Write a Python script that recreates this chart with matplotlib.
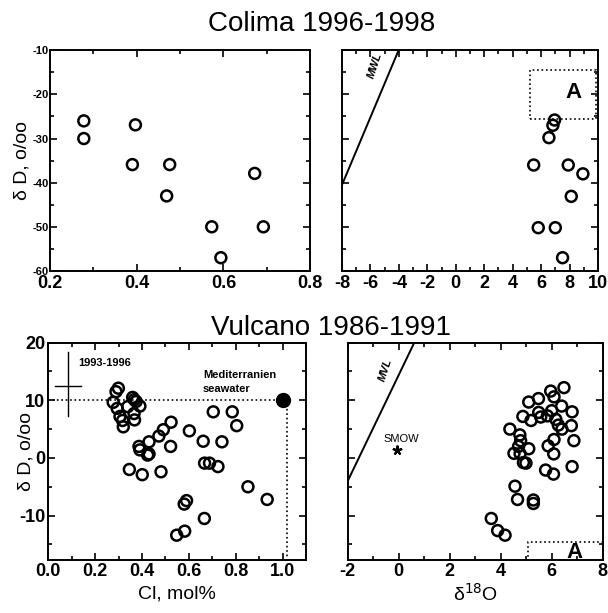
import numpy as np
import matplotlib
matplotlib.use("Agg")
from matplotlib import pyplot as plt
from matplotlib.ticker import MultipleLocator

plt.rcParams['font.family'] = ['Liberation Sans', 'DejaVu Sans']
plt.rcParams['axes.unicode_minus'] = False

# Colima 1996-1998
col_cl = [0.278, 0.278, 0.397, 0.390, 0.476, 0.469, 0.672, 0.573, 0.692, 0.594]
col_dD = [-26.0, -30.0, -26.9, -35.9, -35.9, -43.0, -37.9, -50.0, -50.0, -57.0]
col_d18 = [6.95, 6.83, 6.55, 5.48, 7.91, 8.94, 8.12, 5.80, 7.00, 7.51]
col_dD2 = [-25.8, -27.0, -29.8, -36.0, -36.0, -38.0, -43.1, -50.2, -50.2, -57.0]
col_mwl_x = [-8, -4.02]
col_mwl_y = [-40.5, -10]
col_boxA = [5.19, 9.83, -25.5, -14.5]

# Vulcano 1986-1991
vul_cl = [0.277, 0.289, 0.299, 0.294, 0.306, 0.317, 0.320, 0.339, 0.360, 0.367,
          0.366, 0.368, 0.391, 0.375, 0.346, 0.401, 0.387, 0.391, 0.430, 0.430,
          0.424, 0.472, 0.491, 0.524, 0.522, 0.481, 0.602, 0.704, 0.785, 0.804,
          0.741, 0.661, 0.667, 0.688, 0.724, 0.852, 0.934, 0.590, 0.580, 0.666,
          0.582, 0.548]
vul_dD = [9.65, 11.5, 12.1, 8.6, 7.2, 6.5, 5.4, 8.9, 10.5, 10.1,
          7.7, 6.6, 9.0, 9.8, -2.0, -2.9, 2.0, 1.4, 2.8, 0.7,
          0.5, 3.8, 4.9, 6.2, 2.0, -2.4, 4.7, 8.0, 8.0, 5.6,
          2.8, 2.9, -0.9, -0.9, -1.5, -5.0, -7.2, -7.4, -8.0, -10.5,
          -12.7, -13.4]
vul_d18 = [6.48, 5.96, 6.09, 5.48, 5.10, 6.39, 6.80, 6.00, 5.49, 5.83,
           5.57, 4.87, 5.19, 6.16, 6.26, 6.40, 6.77, 4.36, 4.75, 4.78,
           4.70, 5.10, 6.09, 5.86, 6.87, 4.52, 4.76, 4.89, 4.99, 6.08,
           6.80, 5.76, 6.07, 4.56, 4.66, 5.28, 5.28, 3.63, 3.88, 4.17]
vul_dD2 = [12.2, 11.6, 10.6, 10.3, 9.7, 9.0, 8.0, 8.2, 7.9, 7.3,
           7.1, 7.2, 6.5, 6.7, 5.7, 5.0, 5.6, 5.0, 4.0, 3.0,
           2.0, 1.6, 3.2, 2.1, 3.0, 0.8, 0.75, -0.8, -0.9, 0.7,
           -1.5, -2.1, -2.8, -4.9, -7.2, -7.3, -7.9, -10.5, -12.6, -13.4]
sea_cl, sea_dD = 1.0, 10.0
err_x, err_y = 0.0825, 12.4
err_xr = [0.03, 0.139]
err_yr = [7.3, 18.3]
smow = (-0.05, 1.3)
vul_mwl_x = [-2, 0.61]
vul_mwl_y = [-4.0, 20]
vul_boxA = [5.06, 8.0, -17.7, -14.5]

fig = plt.figure(figsize=(6.08, 6.13), dpi=100)
ax1 = fig.add_axes([0.0822, 0.558, 0.428, 0.360])
ax2 = fig.add_axes([0.5625, 0.558, 0.421, 0.360])
ax3 = fig.add_axes([0.0794, 0.0865, 0.424, 0.3545])
ax4 = fig.add_axes([0.5719, 0.0865, 0.4194, 0.3545])

circ = dict(s=62, facecolors='none', edgecolors='black', linewidths=1.8, zorder=3)

def style(ax, xmaj, xmin, ymaj, ymin):
    ax.xaxis.set_major_locator(MultipleLocator(xmaj))
    ax.xaxis.set_minor_locator(MultipleLocator(xmin))
    ax.yaxis.set_major_locator(MultipleLocator(ymaj))
    ax.yaxis.set_minor_locator(MultipleLocator(ymin))
    ax.tick_params(which='both', direction='in', top=True, right=True, width=1.2)
    ax.tick_params(which='major', length=5)
    ax.tick_params(which='minor', length=3)
    for sp in ax.spines.values():
        sp.set_linewidth(1.4)

def bold(ax):
    for lb in ax.get_xticklabels() + ax.get_yticklabels():
        lb.set_fontweight('bold')

# top left
ax1.scatter(col_cl, col_dD, **circ)
ax1.set_xlim(0.2, 0.8)
ax1.set_ylim(-60, -10)
style(ax1, 0.2, 0.1, 10, 5)
ax1.tick_params(axis='x', labelsize=13, pad=3)
ax1.tick_params(axis='y', labelsize=8, pad=1)
bold(ax1)
ax1.set_ylabel('δ D, o/oo', fontsize=14, labelpad=1)

# top right
ax2.scatter(col_d18, col_dD2, **circ)
ax2.plot(col_mwl_x, col_mwl_y, color='black', lw=1.4)
ax2.text(-5.7, -13.5, 'MWL', rotation=72, fontsize=8, fontweight='bold',
         ha='center', va='center', fontstyle='italic')
ax2.add_patch(plt.Rectangle((col_boxA[0], col_boxA[2]), col_boxA[1] - col_boxA[0],
                            col_boxA[3] - col_boxA[2], fill=False, ls=':', lw=1.2))
ax2.text(8.3, -19.5, 'A', fontsize=16, fontweight='bold', ha='center', va='center')
ax2.set_xlim(-8, 10)
ax2.set_ylim(-60, -10)
style(ax2, 2, 1, 10, 5)
ax2.tick_params(axis='x', labelsize=13, pad=3)
ax2.set_yticklabels([])
bold(ax2)

# bottom left
ax3.scatter(vul_cl, vul_dD, **circ)
ax3.plot([0, sea_cl], [sea_dD, sea_dD], color='black', ls=':', lw=1.2)
ax3.plot([1.02, 1.02], [sea_dD, -17.7], color='black', ls=':', lw=1.2)
ax3.plot(sea_cl, sea_dD, 'o', color='black', markersize=10, zorder=4)
ax3.plot(err_xr, [err_y, err_y], color='black', lw=1.0)
ax3.plot([err_x, err_x], err_yr, color='black', lw=1.0)
ax3.text(0.128, 16.5, '1993-1996', fontsize=8, fontweight='bold', va='center')
ax3.text(0.66, 13.2, 'Mediterranien\nseawater', fontsize=8, fontweight='bold',
         va='center', linespacing=1.5)
ax3.set_xlim(0, 1.1)
ax3.set_ylim(-17.7, 20)
style(ax3, 0.2, 0.1, 10, 5)
ax3.tick_params(labelsize=13, pad=2)
bold(ax3)
ax3.set_ylabel('δ D, o/oo', fontsize=14, labelpad=-11)
ax3.set_xlabel('Cl, mol%', fontsize=14, labelpad=4)

# bottom right
ax4.scatter(vul_d18, vul_dD2, **circ)
ax4.plot(vul_mwl_x, vul_mwl_y, color='black', lw=1.4)
ax4.text(-0.5, 15.3, 'MVL', rotation=72, fontsize=8, fontweight='bold',
         ha='center', va='center', fontstyle='italic')
ax4.plot(*smow, marker=(5, 2, 0), color='black', markersize=7, mew=1.5)
ax4.text(0.12, 3.3, 'SMOW', fontsize=8, ha='center', va='center')
ax4.add_patch(plt.Rectangle((vul_boxA[0], vul_boxA[2]), vul_boxA[1] - vul_boxA[0],
                            vul_boxA[3] - vul_boxA[2], fill=False, ls=':', lw=1.2))
ax4.text(6.9, -16.4, 'A', fontsize=16, fontweight='bold', ha='center', va='center')
ax4.set_xlim(-2, 8)
ax4.set_ylim(-17.7, 20)
style(ax4, 2, 1, 10, 5)
ax4.tick_params(axis='x', labelsize=13, pad=2)
ax4.set_yticklabels([])
bold(ax4)
ax4.set_xlabel('δ$^{18}$O', fontsize=14, labelpad=2)

fig.text(0.529, 0.950, 'Colima 1996-1998', fontsize=20, ha='center', va='baseline')
fig.text(0.545, 0.4535, 'Vulcano 1986-1991', fontsize=20, ha='center', va='baseline')

fig.savefig('out.png', dpi=100)
